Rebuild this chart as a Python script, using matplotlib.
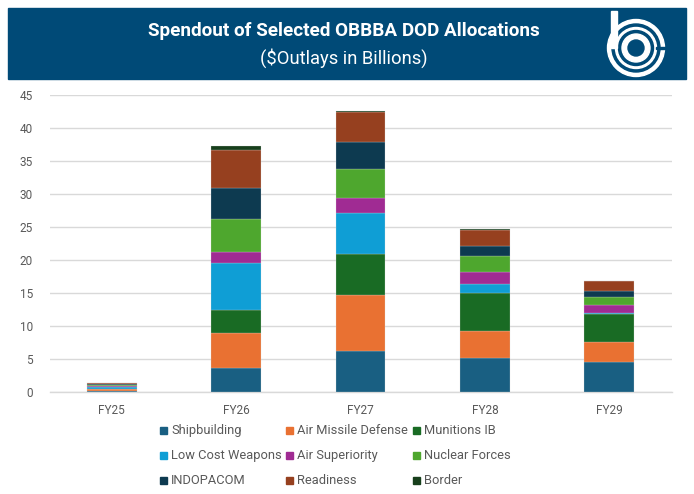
import numpy as np
import matplotlib
matplotlib.use('Agg')
import matplotlib.pyplot as plt
from matplotlib.patches import Rectangle, Circle

# data ($ billions)
years = ['FY25', 'FY26', 'FY27', 'FY28', 'FY29']
categories = ['Shipbuilding', 'Air Missile Defense', 'Munitions IB',
              'Low Cost Weapons', 'Air Superiority', 'Nuclear Forces',
              'INDOPACOM', 'Readiness', 'Border']
shipbuilding = [0.10, 3.60, 6.20, 5.05, 4.45]
air_missile = [0.25, 5.30, 8.40, 4.20, 3.05]
munitions = [0.10, 3.50, 6.20, 5.70, 4.20]
low_cost = [0.30, 7.15, 6.25, 1.35, 0.25]
air_superiority = [0.10, 1.60, 2.25, 1.85, 1.20]
nuclear = [0.15, 5.10, 4.50, 2.40, 1.15]
indopacom = [0.10, 4.65, 4.10, 1.55, 0.90]
readiness = [0.20, 5.70, 4.50, 2.45, 1.50]
border = [0.05, 0.65, 0.20, 0.05, 0.05]
series = [shipbuilding, air_missile, munitions, low_cost, air_superiority,
          nuclear, indopacom, readiness, border]
colors = ['#195F82', '#E97132', '#196B24', '#0F9ED5', '#A02B93',
          '#4EA72E', '#0D3A50', '#96401F', '#173F1C']

plt.rcParams['font.family'] = ['Roboto', 'DejaVu Sans']

W, H = 694, 494
fig = plt.figure(figsize=(W / 100, H / 100), dpi=100)
fig.patch.set_facecolor('white')

# main chart area
ax = fig.add_axes([49.5 / W, (H - 391.5) / H, 622 / W, 296.5 / H])
x = np.arange(len(years))
bottom = np.zeros(len(years))
for vals, col, name in zip(series, colors, categories):
    ax.bar(x, vals, width=0.4, bottom=bottom, color=col, label=name,
           edgecolor=(0.85, 0.85, 0.85, 0.6), linewidth=0.3, zorder=3)
    bottom += np.array(vals)

ax.set_xlim(-0.5, len(years) - 0.5)
ax.set_ylim(0, 45)
ax.set_yticks(range(0, 46, 5))
ax.set_xticks(x)
ax.set_xticklabels(years)
ax.grid(axis='y', color='#d9d9d9', linewidth=1, zorder=0)
for s in ['top', 'right', 'left']:
    ax.spines[s].set_visible(False)
ax.spines['bottom'].set_color('#d9d9d9')
ax.spines['bottom'].set_linewidth(1)
ax.tick_params(axis='both', length=0, labelsize=8.5, colors='#595959')
ax.tick_params(axis='y', pad=12)
ax.tick_params(axis='x', pad=9)

# overlay in pixel coordinates for header, logo and legend
ov = fig.add_axes([0, 0, 1, 1], facecolor='none')
ov.set_xlim(0, W)
ov.set_ylim(H, 0)
ov.axis('off')

ov.add_patch(Rectangle((8, 8), 678, 71, color='#004A77', zorder=1))
ov.text(344, 31, 'Spendout of Selected OBBBA DOD Allocations', color='white',
        fontsize=13.6, fontweight='bold', ha='center', va='center', zorder=2)
ov.text(344, 58, '($Outlays in Billions)', color='white', fontsize=13.2,
        ha='center', va='center', zorder=2)

# logo
cx, cy = 636, 48
ov.add_patch(Circle((cx, cy), 28.5, color='white', zorder=2))
ov.add_patch(Circle((cx, cy), 24, color='#004A77', zorder=3))
ov.add_patch(Circle((cx, cy), 20.5, color='white', zorder=4))
ov.add_patch(Circle((cx, cy), 17.5, color='#004A77', zorder=5))
ov.add_patch(Circle((cx, cy), 14, color='white', zorder=6))
ov.add_patch(Circle((cx, cy), 8, color='#004A77', zorder=7))
ov.add_patch(Rectangle((611, 11), 6, 37, color='white', zorder=8))
ov.add_patch(Rectangle((cx + 20, cy - 1), 9.5, 2, color='#004A77', zorder=8))

# legend, laid out in rows like the original
for i, (name, col) in enumerate(zip(categories, colors)):
    lx = 160 + (i % 3) * 126.5
    ly = 430.5 + (i // 3) * 25
    ov.add_patch(Rectangle((lx, ly - 3.5), 7, 7, color=col))
    ov.text(lx + 11, ly, name, fontsize=9.3, color='#595959', va='center', ha='left')

fig.savefig('out.png', dpi=100)
